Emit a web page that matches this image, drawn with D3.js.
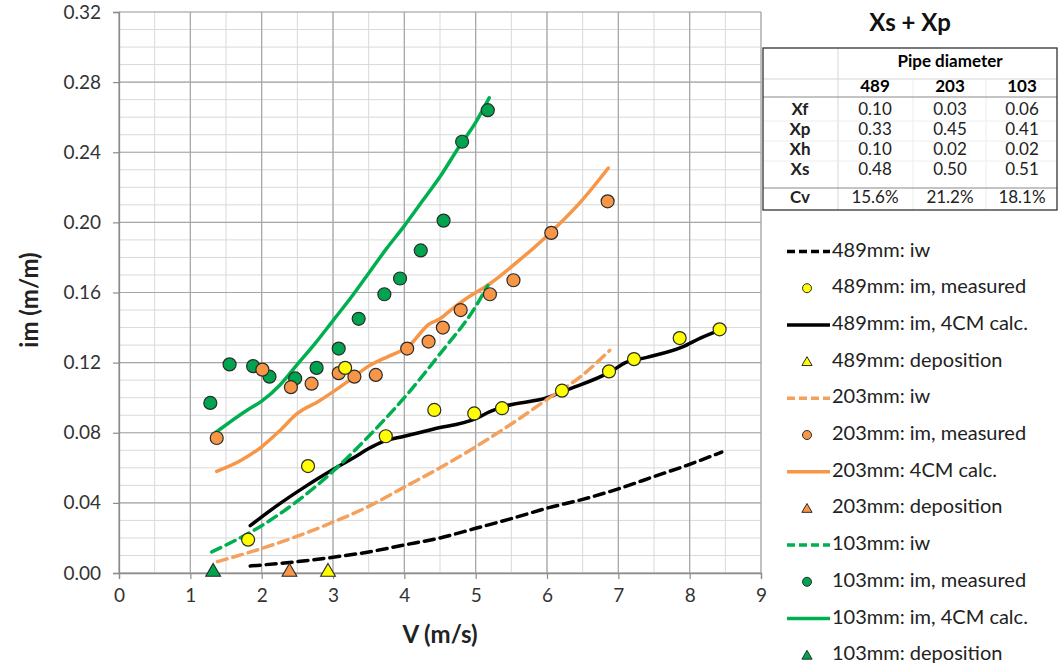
<!DOCTYPE html>
<html>
<head>
<meta charset="utf-8">
<script src="https://cdn.jsdelivr.net/npm/d3@7"></script>
<style>
  body { margin: 0; background: #fff; }
  svg { font-family: Lato, "Noto Sans", sans-serif; }
</style>
</head>
<body>
<svg id="chart" width="1058" height="670"></svg>
<script>
// --- data ---
const xTicks = [0, 1, 2, 3, 4, 5, 6, 7, 8, 9];
const yTicks = [0, 0.04, 0.08, 0.12, 0.16, 0.20, 0.24, 0.28, 0.32];

// 489 mm
const iw489 = [[1.84,0.004],[2.5,0.0065],[3,0.009],[3.5,0.012],[4,0.016],[4.5,0.020],[5,0.0255],[5.5,0.031],[6,0.037],[6.5,0.042],[7,0.048],[7.5,0.055],[8,0.062],[8.45,0.069]];
const meas489 = [[1.81,0.019],[2.65,0.061],[3.17,0.117],[3.74,0.078],[4.42,0.093],[4.98,0.091],[5.37,0.094],[6.21,0.104],[6.87,0.115],[7.22,0.122],[7.86,0.134],[8.42,0.139]];
const calc489 = [[1.84,0.027],[2.2,0.038],[2.6,0.049],[3.0,0.059],[3.3,0.066],[3.5,0.071],[3.7,0.075],[4.0,0.078],[4.4,0.082],[5.0,0.088],[5.2,0.092],[5.4,0.095],[6.0,0.100],[6.25,0.104],[6.9,0.115],[7.1,0.120],[7.4,0.123],[7.9,0.129],[8.15,0.134],[8.45,0.139]];
const dep489 = [[2.93,0]];

// 203 mm
const iw203 = [[1.38,0.0065],[2,0.014],[2.5,0.021],[3,0.029],[3.5,0.038],[4,0.049],[4.5,0.060],[5,0.072],[5.5,0.085],[6,0.099],[6.5,0.113],[6.88,0.127]];
const meas203 = [[1.37,0.077],[2.01,0.116],[2.41,0.106],[2.70,0.108],[3.08,0.114],[3.30,0.112],[3.60,0.113],[4.04,0.128],[4.34,0.132],[4.54,0.140],[4.79,0.150],[5.20,0.159],[5.53,0.167],[6.06,0.194],[6.85,0.212]];
const calc203 = [[1.37,0.058],[1.7,0.064],[2.0,0.072],[2.25,0.081],[2.5,0.091],[2.8,0.098],[3.2,0.109],[3.5,0.118],[3.8,0.124],[4.05,0.129],[4.35,0.142],[4.5,0.145],[4.65,0.150],[4.85,0.156],[5.2,0.165],[5.6,0.178],[6.07,0.195],[6.5,0.213],[6.86,0.231]];
const dep203 = [[2.39,0]];

// 103 mm
const iw103 = [[1.3,0.012],[2,0.027],[2.5,0.041],[3,0.058],[3.5,0.078],[4,0.100],[4.5,0.125],[5,0.152],[5.17,0.164]];
const meas103 = [[1.28,0.097],[1.55,0.119],[1.88,0.118],[2.11,0.112],[2.47,0.111],[2.77,0.117],[3.08,0.128],[3.36,0.145],[3.72,0.159],[3.94,0.168],[4.23,0.184],[4.55,0.201],[4.81,0.246],[5.17,0.264]];
const calc103 = [[1.35,0.080],[1.8,0.093],[2.0,0.098],[2.25,0.107],[2.5,0.119],[2.75,0.131],[3.0,0.144],[3.25,0.157],[3.5,0.171],[3.75,0.185],[4.0,0.198],[4.25,0.212],[4.5,0.226],[4.75,0.242],[5.0,0.257],[5.19,0.271]];
const dep103 = [[1.32,0]];

// table
const pipeCols = ["489", "203", "103"];
const tableRows = [
  ["Xf", "0.10", "0.03", "0.06"],
  ["Xp", "0.33", "0.45", "0.41"],
  ["Xh", "0.10", "0.02", "0.02"],
  ["Xs", "0.48", "0.50", "0.51"]
];
const cvRow = ["Cv", "15.6%", "21.2%", "18.1%"];

// --- colours ---
const BLACK = "#000000", ORANGE = "#f79646", ORANGE_LT = "#f4a15e", GREEN = "#00b050";
const YELLOW_F = "#ffff00", ORANGE_F = "#f79646", GREEN_F = "#00a44f";

const svg = d3.select("#chart");

const x = d3.scaleLinear().domain([0, 9]).range([119, 761]);
const y = d3.scaleLinear().domain([0, 0.32]).range([573, 12]);

// gridlines
const grid = svg.append("g");
grid.selectAll(".hmin").data(d3.range(0, 33).map(d => d / 100)).enter().append("line")
  .attr("x1", x(0)).attr("x2", x(9))
  .attr("y1", d => y(d)).attr("y2", d => y(d))
  .attr("stroke", "#d9d9d9").attr("stroke-width", 1);
grid.selectAll(".vmin").data(d3.range(0, 19).map(d => d / 2)).enter().append("line")
  .attr("y1", y(0)).attr("y2", y(0.32))
  .attr("x1", d => x(d)).attr("x2", d => x(d))
  .attr("stroke", "#d9d9d9").attr("stroke-width", 1);
grid.selectAll(".hmaj").data(yTicks).enter().append("line")
  .attr("x1", x(0)).attr("x2", x(9))
  .attr("y1", d => y(d)).attr("y2", d => y(d))
  .attr("stroke", "#a6a6a6").attr("stroke-width", 1.2);
grid.selectAll(".vmaj").data(xTicks).enter().append("line")
  .attr("y1", y(0)).attr("y2", y(0.32))
  .attr("x1", d => x(d)).attr("x2", d => x(d))
  .attr("stroke", "#a6a6a6").attr("stroke-width", 1.2);

// axes
const xAxis = svg.append("g").attr("transform", `translate(0,${y(0)})`)
  .call(d3.axisBottom(x).tickValues(xTicks).tickSize(6).tickPadding(10).tickFormat(d3.format("d")));
const yAxis = svg.append("g").attr("transform", `translate(${x(0)},0)`)
  .call(d3.axisLeft(y).tickValues(yTicks).tickSize(6).tickPadding(12).tickFormat(d3.format(".2f")));
[xAxis, yAxis].forEach(a => {
  a.select(".domain").attr("stroke", "#8c8c8c").attr("stroke-width", 1.3);
  a.selectAll(".tick line").attr("stroke", "#8c8c8c").attr("stroke-width", 1.2);
  a.selectAll(".tick text").attr("fill", "#333").style("font-size", "19px").style("font-family", "Lato, sans-serif");
});

// axis titles
svg.append("text").attr("x", 440).attr("y", 643).attr("text-anchor", "middle")
  .style("font-size", "24px").style("font-weight", "bold").attr("fill", "#222").text("V (m/s)");
svg.append("text").attr("transform", "translate(38,300) rotate(-90)").attr("text-anchor", "middle")
  .style("font-size", "24px").style("font-weight", "bold").attr("fill", "#222").text("im (m/m)");

// lines
const line = d3.line().x(d => x(d[0])).y(d => y(d[1])).curve(d3.curveMonotoneX);
const plot = svg.append("g");
const lineSeries = [
  { data: iw489, color: BLACK, dash: "10,6" },
  { data: calc489, color: BLACK, dash: null },
  { data: iw203, color: ORANGE_LT, dash: "10,6" },
  { data: calc203, color: ORANGE, dash: null },
  { data: iw103, color: GREEN, dash: "10,6" },
  { data: calc103, color: GREEN, dash: null }
];
plot.selectAll(".series").data(lineSeries).enter().append("path")
  .attr("d", s => line(s.data))
  .attr("fill", "none")
  .attr("stroke", s => s.color)
  .attr("stroke-width", 3.5)
  .attr("stroke-linecap", "round")
  .attr("stroke-dasharray", s => s.dash);

// measured points
const pointSeries = [
  { data: meas103, fill: GREEN_F },
  { data: meas203, fill: ORANGE_F },
  { data: meas489, fill: YELLOW_F }
];
pointSeries.forEach(s => {
  plot.append("g").selectAll("circle").data(s.data).enter().append("circle")
    .attr("cx", d => x(d[0])).attr("cy", d => y(d[1])).attr("r", 6.5)
    .attr("fill", s.fill).attr("stroke", "#2b2b2b").attr("stroke-width", 1.2);
});

// deposition triangles
const tri = d3.symbol().type(d3.symbolTriangle).size(95);
[{ data: dep103, fill: GREEN_F }, { data: dep203, fill: ORANGE_F }, { data: dep489, fill: YELLOW_F }].forEach(s => {
  plot.append("g").selectAll("path").data(s.data).enter().append("path")
    .attr("d", tri)
    .attr("transform", d => `translate(${x(d[0])},${y(d[1]) - 1})`)
    .attr("fill", s.fill).attr("stroke", "#2b2b2b").attr("stroke-width", 1.1);
});

// table
const tb = svg.append("g");
tb.append("text").attr("x", 910).attr("y", 31).attr("text-anchor", "middle")
  .style("font-size", "24px").style("font-weight", "bold").attr("fill", "#111").text("Xs + Xp");
const colX = [763, 838, 913, 986, 1057];
const colC = [800, 875, 950, 1022];
// faint inner lines
[colX[2], colX[3]].forEach(cx => tb.append("line").attr("x1", cx).attr("x2", cx).attr("y1", 79).attr("y2", 210).attr("stroke", "#ececec"));
tb.append("line").attr("x1", colX[1]).attr("x2", colX[1]).attr("y1", 48).attr("y2", 210).attr("stroke", "#d6d6d6");
tb.append("line").attr("x1", 763).attr("x2", 1057).attr("y1", 79).attr("y2", 79).attr("stroke", "#d6d6d6");
[121, 141, 161].forEach(ry => tb.append("line").attr("x1", 763).attr("x2", 1057).attr("y1", ry).attr("y2", ry).attr("stroke", "#eeeeee"));
tb.append("line").attr("x1", 763).attr("x2", 1057).attr("y1", 97).attr("y2", 97).attr("stroke", "#8a8a8a").attr("stroke-width", 1.2);
tb.append("line").attr("x1", 763).attr("x2", 1057).attr("y1", 188).attr("y2", 188).attr("stroke", "#8a8a8a").attr("stroke-width", 1.2);
tb.append("rect").attr("x", 763).attr("y", 48).attr("width", 294).attr("height", 162)
  .attr("fill", "none").attr("stroke", "#333").attr("stroke-width", 1.3);

const cellFont = "17px";
tb.append("text").attr("x", 950).attr("y", 63).attr("text-anchor", "middle").attr("dominant-baseline", "middle")
  .style("font-size", cellFont).style("font-weight", "bold").text("Pipe diameter");
pipeCols.forEach((c, i) => tb.append("text").attr("x", colC[i + 1]).attr("y", 88)
  .attr("text-anchor", "middle").attr("dominant-baseline", "middle")
  .style("font-size", cellFont).style("font-weight", "bold").text(c));
tableRows.concat([cvRow]).forEach((row, r) => {
  const ry = r < 4 ? 111 + r * 20 : 199;
  row.forEach((cell, i) => tb.append("text").attr("x", colC[i]).attr("y", ry)
    .attr("text-anchor", "middle").attr("dominant-baseline", "middle")
    .style("font-size", cellFont).style("font-weight", i === 0 ? "bold" : "normal")
    .attr("fill", "#222").text(cell));
});

// legend
const legendItems = [
  { label: "489mm: iw", kind: "line", color: BLACK, dash: "8,4" },
  { label: "489mm: im, measured", kind: "circle", fill: YELLOW_F },
  { label: "489mm: im, 4CM calc.", kind: "line", color: BLACK, dash: null },
  { label: "489mm: deposition", kind: "tri", fill: YELLOW_F },
  { label: "203mm: iw", kind: "line", color: ORANGE_LT, dash: "8,4" },
  { label: "203mm: im, measured", kind: "circle", fill: ORANGE_F },
  { label: "203mm: 4CM calc.", kind: "line", color: ORANGE, dash: null },
  { label: "203mm: deposition", kind: "tri", fill: ORANGE_F },
  { label: "103mm: iw", kind: "line", color: GREEN, dash: "8,4" },
  { label: "103mm: im, measured", kind: "circle", fill: GREEN_F },
  { label: "103mm: im, 4CM calc.", kind: "line", color: GREEN, dash: null },
  { label: "103mm: deposition", kind: "tri", fill: GREEN_F }
];
const lg = svg.append("g");
legendItems.forEach((it, i) => {
  const ly = 251.5 + i * 36.7;
  if (it.kind === "line") {
    lg.append("line").attr("x1", 787).attr("x2", 830).attr("y1", ly).attr("y2", ly)
      .attr("stroke", it.color).attr("stroke-width", 3.5).attr("stroke-dasharray", it.dash);
  } else if (it.kind === "circle") {
    lg.append("circle").attr("cx", 807).attr("cy", ly).attr("r", 4.5)
      .attr("fill", it.fill).attr("stroke", "#2b2b2b").attr("stroke-width", 1);
  } else {
    lg.append("path").attr("d", d3.symbol().type(d3.symbolTriangle).size(45))
      .attr("transform", `translate(807,${ly + 1})`)
      .attr("fill", it.fill).attr("stroke", "#2b2b2b").attr("stroke-width", 1);
  }
  lg.append("text").attr("x", 832).attr("y", ly).attr("dominant-baseline", "middle")
    .style("font-size", "20px").attr("fill", "#222").text(it.label);
});
</script>
</body>
</html>
